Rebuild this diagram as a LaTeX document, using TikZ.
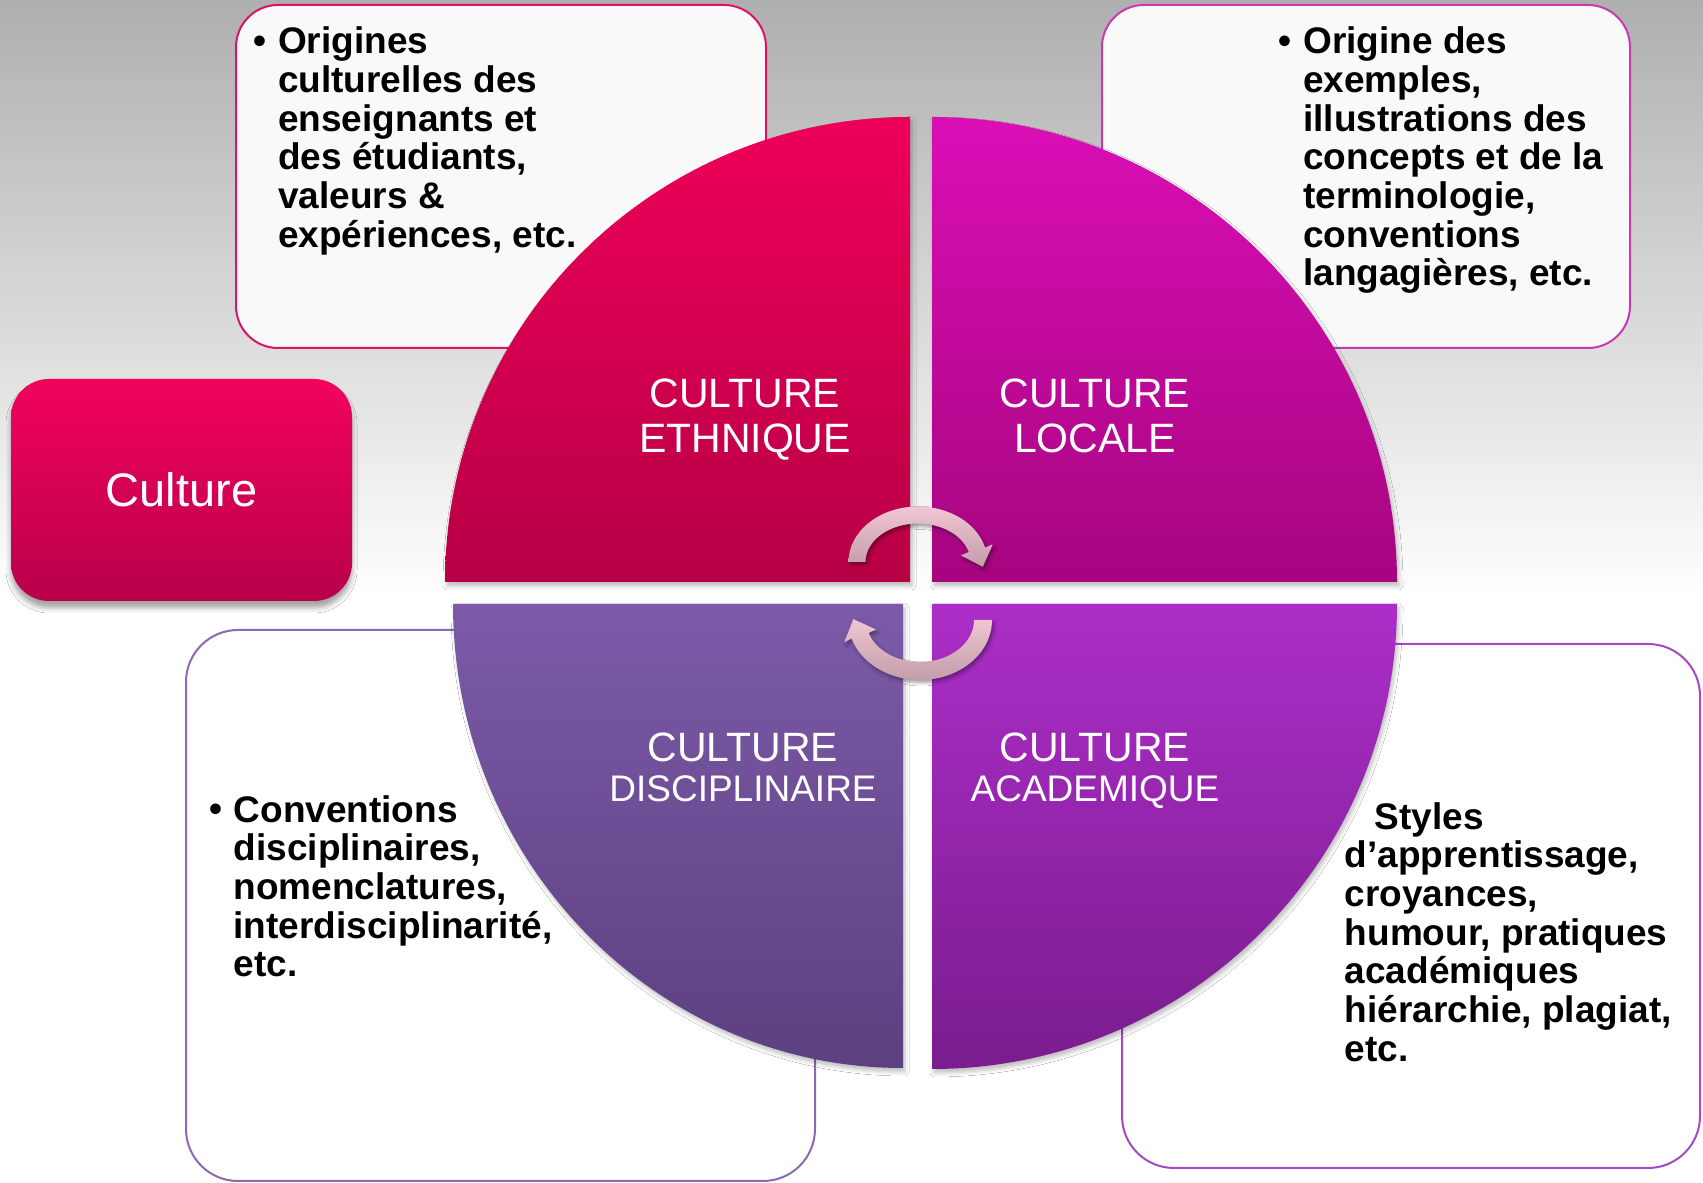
\documentclass[tikz,border=0pt]{standalone}
\usepackage{fontspec}
\setmainfont{Liberation Sans}
\usetikzlibrary{shadows.blur}

% palette
\definecolor{bgtop}{HTML}{AFAFAF}
\definecolor{bgmid}{HTML}{E2E2E2}
\definecolor{culTop}{HTML}{F2035C}
\definecolor{culBot}{HTML}{B8004A}
\definecolor{ethTop}{HTML}{EE0058}
\definecolor{ethBot}{HTML}{B70045}
\definecolor{locTop}{HTML}{DA0FB6}
\definecolor{locBot}{HTML}{A6057F}
\definecolor{disTop}{HTML}{7C5AA8}
\definecolor{disBot}{HTML}{5C4080}
\definecolor{acaTop}{HTML}{AC2EC8}
\definecolor{acaBot}{HTML}{7A1C8E}
\definecolor{arrTop}{HTML}{F0C6D2}
\definecolor{arrBot}{HTML}{C29DAA}
\definecolor{edgeEth}{HTML}{DC1468}
\definecolor{edgeLoc}{HTML}{C83AB4}
\definecolor{edgeDis}{HTML}{8A6AB0}
\definecolor{edgeAca}{HTML}{A64AC4}
\definecolor{paper}{HTML}{F9F9F9}

\tikzset{
  x=1pt, y=1pt,
  infobox/.style={draw, line width=2pt, inner sep=0pt, rectangle},
  boxtext/.style={anchor=north west, inner sep=0pt, align=left, text=black,
                  font=\bfseries\fontsize{37}{38.7}\selectfont},
  bulletmark/.style={anchor=base east, inner sep=0pt, text=black,
                  font=\bfseries\fontsize{37}{38.7}\selectfont},
  qlabel/.style={anchor=base, inner sep=0pt, text=white,
                  font=\fontsize{41}{45}\selectfont},
  qlabelsmall/.style={qlabel, font=\fontsize{37}{41}\selectfont},
  quadrant/.style={blur shadow={shadow xshift=2pt, shadow yshift=-4pt,
                  shadow blur radius=4pt, shadow opacity=25}},
  turnarrow/.style={top color=arrTop, bottom color=arrBot,
                  blur shadow={shadow xshift=2pt, shadow yshift=-3pt,
                  shadow blur radius=3pt, shadow opacity=35}},
}

\begin{document}
\begin{tikzpicture}
\useasboundingbox (0,0) rectangle (1703,1183);

% backdrop
\fill[white] (0,0) rectangle (1703,1183);
\shade[top color=bgtop, middle color=bgmid, bottom color=white]
  (0,583) rectangle (1703,1183);

% description panels
\node[infobox, draw=edgeEth, fill=paper, rounded corners=42pt,
      minimum width=530pt, minimum height=343pt] (boxEth) at (501,1006.5) {};
\node[infobox, draw=edgeLoc, fill=paper, rounded corners=42pt,
      minimum width=528pt, minimum height=343pt] (boxLoc) at (1366,1006.5) {};
\node[infobox, draw=edgeDis, fill=white, rounded corners=52pt,
      minimum width=629pt, minimum height=551pt] (boxDis) at (500.5,277.5) {};
\node[infobox, draw=edgeAca, fill=white, rounded corners=52pt,
      minimum width=578pt, minimum height=524pt] (boxAca) at (1411,277) {};

% "Culture" title block
\node[rectangle, rounded corners=38pt, top color=culTop, bottom color=culBot,
      minimum width=341pt, minimum height=222pt, inner sep=0pt,
      blur shadow={shadow xshift=0pt, shadow yshift=-7pt,
      shadow blur radius=5pt, shadow opacity=35}] (culture) at (181.5,693) {};
\node[anchor=base, inner sep=0pt, text=white, font=\fontsize{47}{50}\selectfont]
  (cultureText) at (181.5,676) {Culture};

% the four quarters of the disc
\path[quadrant, top color=ethTop, bottom color=ethBot]
  (910,601) -- (445,601) arc[start angle=180, end angle=90, radius=465] -- cycle;
\path[quadrant, top color=locTop, bottom color=locBot]
  (932,601) -- (932,1066) arc[start angle=90, end angle=0, radius=465] -- cycle;
\path[quadrant, top color=disTop, bottom color=disBot]
  (903,579) -- (903,115) arc[start angle=270, end angle=180, x radius=450, y radius=464] -- cycle;
\path[quadrant, top color=acaTop, bottom color=acaBot]
  (932,579) -- (1397,579) arc[start angle=0, end angle=-90, radius=465] -- cycle;

% quarter captions
\node[qlabel] (ethA) at (745,775) {CULTURE};
\node[qlabel] (ethB) at (745,730) {ETHNIQUE};
\node[qlabel] (locA) at (1095,775) {CULTURE};
\node[qlabel] (locB) at (1095,730) {LOCALE};
\node[qlabel] (disA) at (743,421) {CULTURE};
\node[qlabelsmall] (disB) at (743,381) {DISCIPLINAIRE};
\node[qlabel] (acaA) at (1095,421) {CULTURE};
\node[qlabelsmall] (acaB) at (1095,381) {ACADEMIQUE};

% circular arrows in the middle
\begin{scope}[shift={(918,621)}]
  \path[turnarrow]
    (180:69.5 and 55.5) arc[start angle=180, end angle=15, x radius=69.5, y radius=55.5]
    -- (74.9,17.8) -- (64.8,-4.8) -- (42.9,6.6)
    -- (15:52.5 and 38.5) arc[start angle=15, end angle=180, x radius=52.5, y radius=38.5]
    -- cycle;
\end{scope}
\begin{scope}[shift={(920,563)}]
  \path[turnarrow]
    (0:72 and 60) arc[start angle=0, end angle=-162, x radius=72, y radius=60]
    -- (-75.7,-22.1) -- (-66.6,0.9) -- (-44.1,-9.5)
    -- (-162:54 and 42) arc[start angle=-162, end angle=0, x radius=54, y radius=42]
    -- cycle;
\end{scope}

% panel texts
\node[bulletmark] (dotEth) at (267,1129.5) {\textbullet};
\node[boxtext] (txtEth) at (278,1159.5)
  {\rule{0pt}{30pt}Origines\\culturelles des\\enseignants et\\des étudiants,\\valeurs \&\\expériences, etc.};

\node[bulletmark] (dotLoc) at (1292,1129.5) {\textbullet};
\node[boxtext] (txtLoc) at (1303,1159.5)
  {\rule{0pt}{30pt}Origine des\\exemples,\\illustrations des\\concepts et de la\\terminologie,\\conventions\\langagières, etc.};

\node[bulletmark] (dotDis) at (222.5,361) {\textbullet};
\node[boxtext] (txtDis) at (233.5,391)
  {\rule{0pt}{30pt}Conventions\\disciplinaires,\\nomenclatures,\\interdisciplinarité,\\etc.};

\node[boxtext] (txtAca) at (1344.6,384)
  {\rule{0pt}{30pt}\hspace*{30pt}Styles\\d’apprentissage,\\croyances,\\humour, pratiques\\académiques\\hiérarchie, plagiat,\\etc.};

\end{tikzpicture}
\end{document}
